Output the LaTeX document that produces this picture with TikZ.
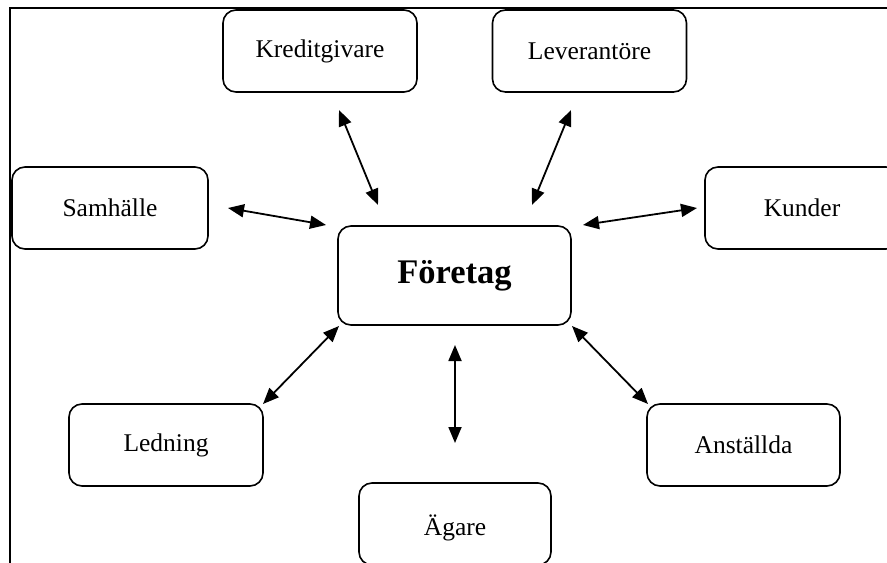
\documentclass[tikz,border=0pt]{standalone}
\usepackage{fontspec}
\setmainfont{Liberation Serif}
\usetikzlibrary{arrows.meta}
\begin{document}
\begin{tikzpicture}[x=1bp,y=-1bp,
  box/.style={draw,line width=1.6bp,rounded corners=13bp,minimum width=194bp,minimum height=82bp,inner sep=0pt,
    font=\fontsize{25.5bp}{30bp}\selectfont},
  bigbox/.style={box,minimum width=233bp,minimum height=99bp,font=\fontsize{34.5bp}{40bp}\selectfont\bfseries},
  link/.style={line width=1.8bp,{Triangle[length=16bp,width=13bp]}-{Triangle[length=16bp,width=13bp]}}]
\useasboundingbox (0,0) rectangle (887,563);
\clip (0,0) rectangle (887,563);
% frame
\draw[line width=2.2bp] (10,563) -- (10,8) -- (890,8);
% nodes
\node[box] (kred) at (320,51) {Kreditgivare};
\node[box] (lev) at (589.5,51) {Leverantöre};
\node[box,minimum width=196bp] (sam) at (110,208) {Samhälle};
\node[box] (kun) at (802,208) {Kunder};
\node[bigbox] (for) at (454.5,275.5) {Företag};
\node[box] (led) at (166,445) {Ledning};
\node[box,minimum width=192bp,text depth=0pt] (agare) at (455,524) {\raisebox{-3bp}{Ägare}};
\node[box,minimum width=193bp] (ans) at (743.5,445) {Anställda};
% arrow end points
\coordinate (kredA) at (339,110); \coordinate (kredB) at (378,205);
\coordinate (levA) at (571,110); \coordinate (levB) at (532,205);
\coordinate (samA) at (228,208); \coordinate (samB) at (326,225);
\coordinate (kunA) at (697,208); \coordinate (kunB) at (583,225);
\coordinate (ledA) at (263,404); \coordinate (ledB) at (339,326);
\coordinate (ansA) at (648,404); \coordinate (ansB) at (572,326);
\coordinate (agA) at (455,443); \coordinate (agB) at (455,345);
% connectors
\draw[link] (kredA) -- (kredB);
\draw[link] (levA) -- (levB);
\draw[link] (samA) -- (samB);
\draw[link] (kunA) -- (kunB);
\draw[link] (ledA) -- (ledB);
\draw[link] (ansA) -- (ansB);
\draw[link] (agA) -- (agB);
\end{tikzpicture}
\end{document}
